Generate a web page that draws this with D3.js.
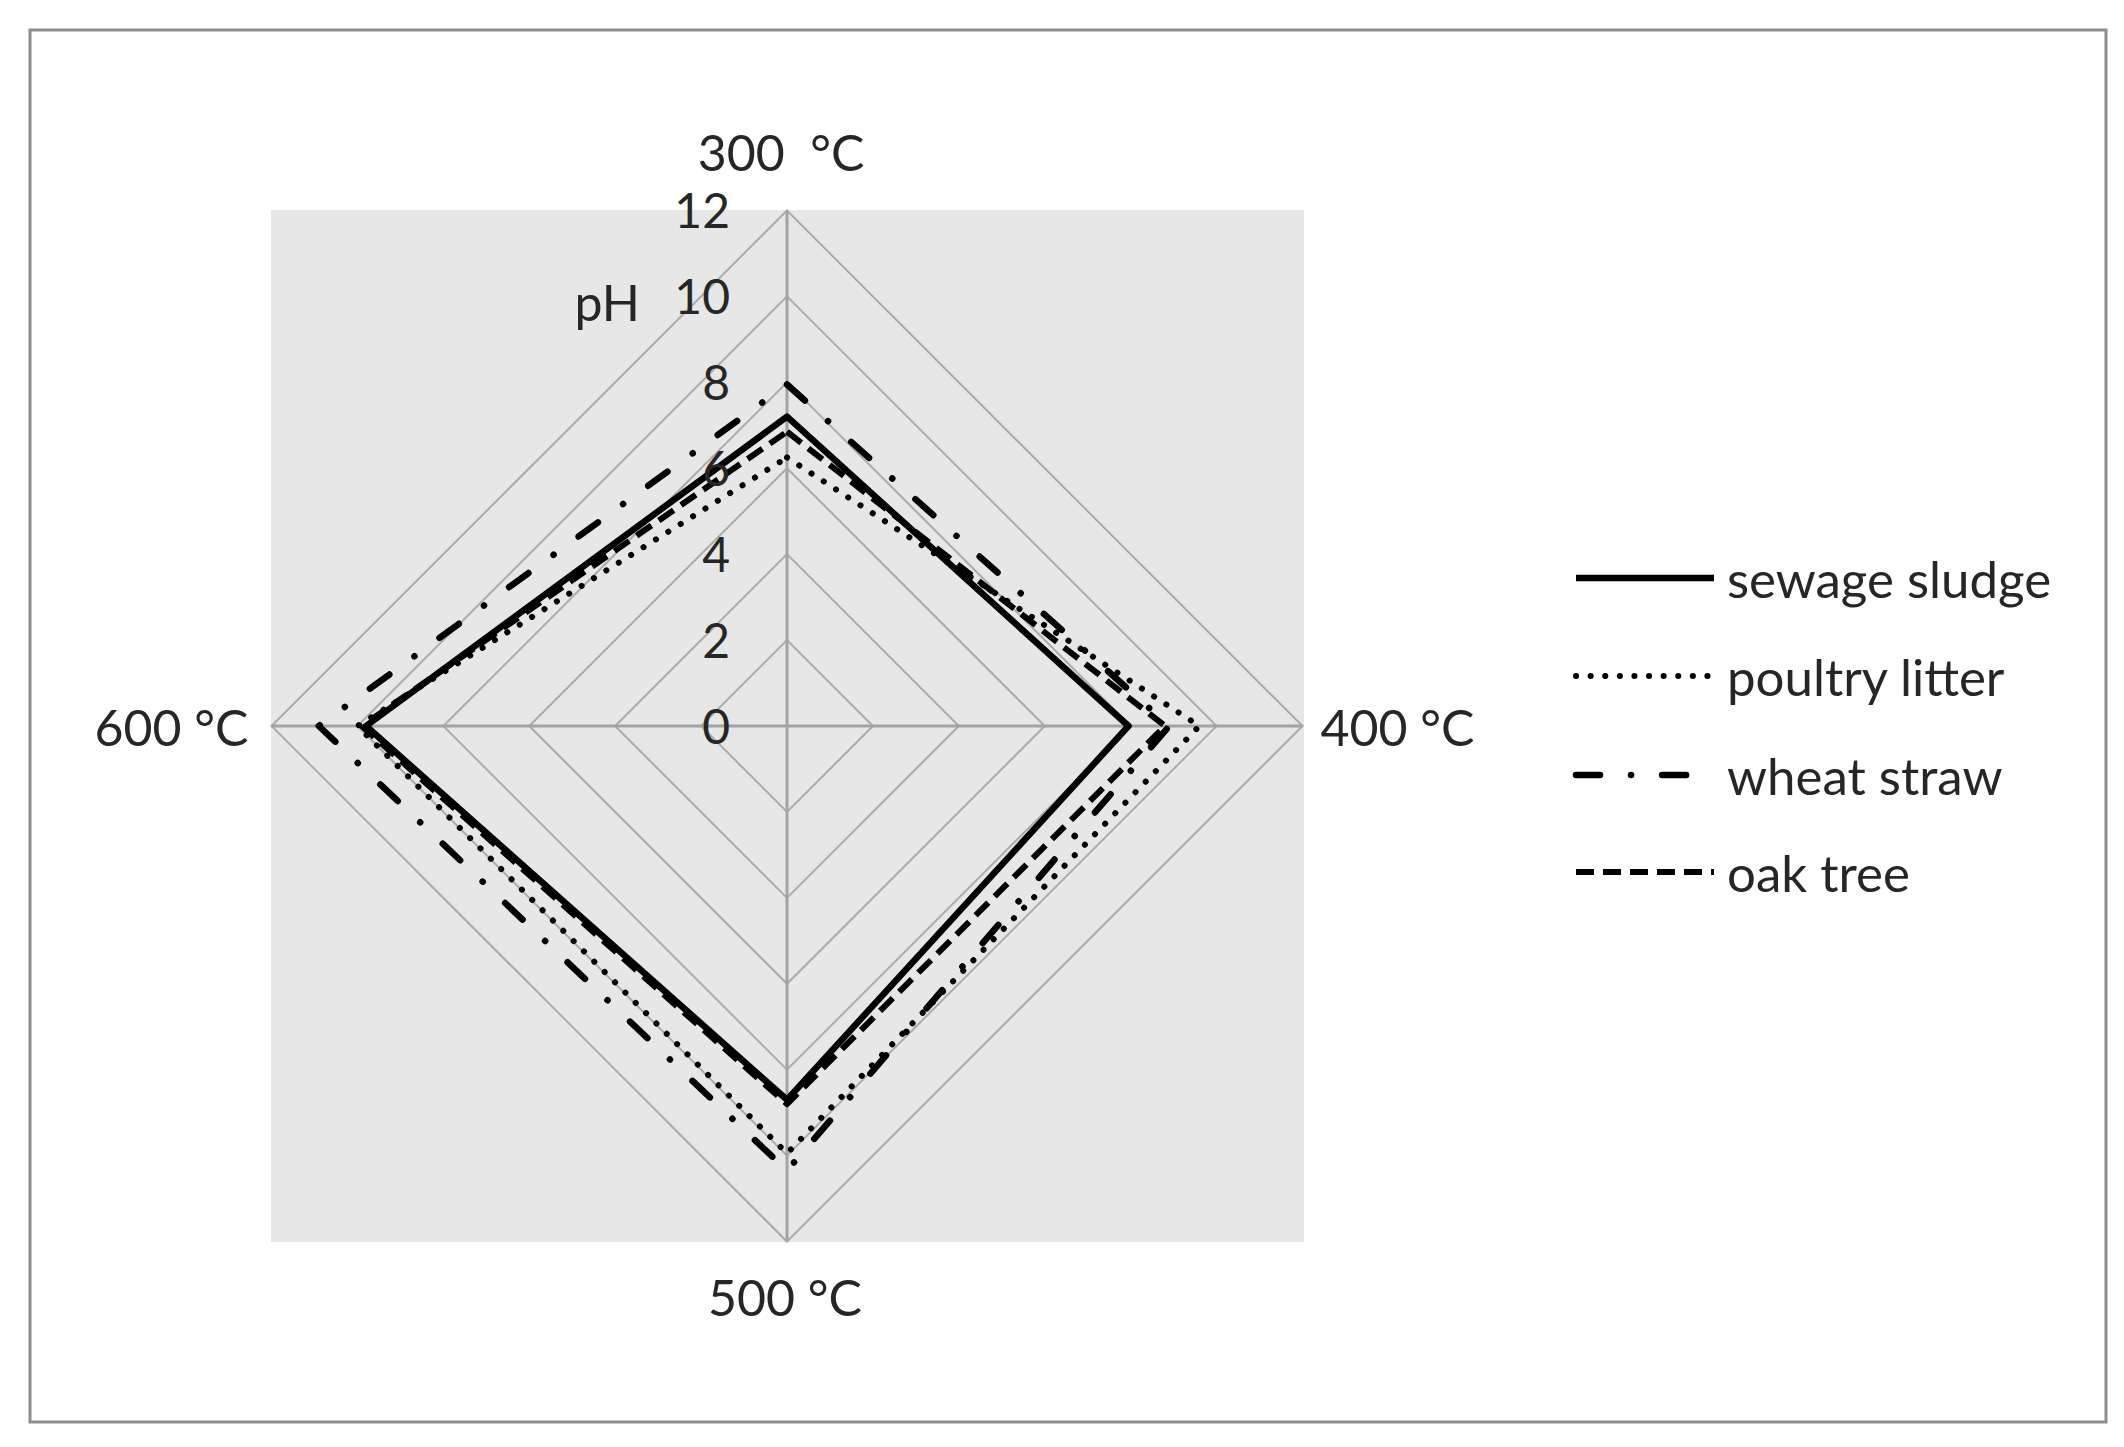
<!DOCTYPE html>
<html>
<head>
<meta charset="utf-8">
<script src="https://cdn.jsdelivr.net/npm/d3@7"></script>
<style>
  html, body { margin: 0; padding: 0; background: #fff; }
  svg text { font-family: Lato, "Open Sans", sans-serif; fill: #262626; }
</style>
</head>
<body>
<svg id="chart" width="2124" height="1447"></svg>
<script>
// ---- data ----
const categories = ["300  °C", "400 °C", "500 °C", "600 °C"];
const seriesNames = ["sewage sludge", "poultry litter", "wheat straw", "oak tree"];
const sewageSludge  = [7.2, 7.95, 8.7, 9.8];
const poultryLitter = [6.25, 9.6, 9.95, 10.0];
const wheatStraw    = [7.95, 8.9, 10.35, 10.9];
const oakTree       = [6.85, 8.8, 8.8, 9.9];
const tickValues = [0, 2, 4, 6, 8, 10, 12];
const axisTitle = "pH";

// ---- styles ----
const styles = [
  { width: 6.5, dash: null, cap: "butt" },
  { width: 6, dash: "0.1 14.5", cap: "round" },
  { width: 6.5, dash: "24 31 0.1 31", cap: "round" },
  { width: 6, dash: "18 9", cap: "butt" }
];
const seriesValues = [sewageSludge, poultryLitter, wheatStraw, oakTree];

const svg = d3.select("#chart");
const cx = 787, cy = 726, R = 515.5;

// outer border
svg.append("rect").attr("x", 30).attr("y", 30).attr("width", 2076).attr("height", 1392)
  .attr("fill", "#fff").attr("stroke", "#8c8c8c").attr("stroke-width", 3);

// plot background
svg.append("rect").attr("x", 271).attr("y", 210).attr("width", 1033).attr("height", 1032)
  .attr("fill", "#e7e7e7");

const r = d3.scaleLinear().domain([0, 12]).range([0, R]);
const angle = d3.scalePoint().domain(d3.range(categories.length)).range([0, 2 * Math.PI * (categories.length - 1) / categories.length]);

const g = svg.append("g").attr("transform", `translate(${cx},${cy})`);

// grid rings
const ringLine = d3.lineRadial().angle((d, i) => angle(i)).radius(d => r(d)).curve(d3.curveLinearClosed);
tickValues.filter(v => v > 0).forEach(v => {
  g.append("path").attr("d", ringLine(categories.map(() => v)))
    .attr("fill", "none").attr("stroke", "#ababab").attr("stroke-width", 2);
});
// spokes
categories.forEach((c, i) => {
  const a = angle(i);
  g.append("line").attr("x1", 0).attr("y1", 0)
    .attr("x2", r(12) * Math.sin(a)).attr("y2", -r(12) * Math.cos(a))
    .attr("stroke", "#a3a3a3").attr("stroke-width", 3);
});

// tick labels via axis
const yAxisScale = d3.scaleLinear().domain([0, 12]).range([cy, cy - R]);
const axisG = svg.append("g").attr("transform", `translate(${cx},0)`)
  .call(d3.axisLeft(yAxisScale).tickValues(tickValues).tickSize(0).tickPadding(57).tickFormat(d3.format("d")));
axisG.select(".domain").remove();
axisG.selectAll("text").attr("font-size", 48).attr("font-family", "Lato, sans-serif").attr("fill", "#262626").attr("dy", "0.36em");

// axis title
svg.append("text").attr("x", 640).attr("y", 302).attr("text-anchor", "end")
  .attr("dominant-baseline", "central").attr("font-size", 50).text(axisTitle);

// category labels
const labelPos = [
  { dx: -6, dy: -(R + 59), anchor: "middle" },
  { dx: R + 18, dy: 1, anchor: "start" },
  { dx: -2, dy: R + 55, anchor: "middle" },
  { dx: -(R + 23), dy: 1, anchor: "end" }
];
categories.forEach((c, i) => {
  const p = labelPos[i];
  g.append("text").attr("x", p.dx).attr("y", p.dy).attr("text-anchor", p.anchor)
    .attr("dominant-baseline", "central").attr("font-size", 50)
    .style("white-space", "pre").text(c);
});

// series
const seriesLine = d3.lineRadial().angle((d, i) => angle(i)).radius(d => r(d)).curve(d3.curveLinearClosed);
seriesValues.forEach((vals, k) => {
  const s = styles[k];
  g.append("path").attr("d", seriesLine(vals)).attr("fill", "none")
    .attr("stroke", "#000").attr("stroke-width", s.width)
    .attr("stroke-dasharray", s.dash).attr("stroke-linecap", s.cap)
    .attr("stroke-linejoin", "round");
});

// legend
const legendY = [578, 676, 775, 872];
seriesNames.forEach((name, k) => {
  const s = styles[k];
  svg.append("line").attr("x1", 1576).attr("x2", 1714).attr("y1", legendY[k]).attr("y2", legendY[k])
    .attr("stroke", "#000").attr("stroke-width", s.width)
    .attr("stroke-dasharray", s.dash).attr("stroke-linecap", s.cap);
  svg.append("text").attr("x", 1727).attr("y", legendY[k]).attr("dominant-baseline", "central")
    .attr("font-size", 51).text(name);
});
</script>
</body>
</html>
